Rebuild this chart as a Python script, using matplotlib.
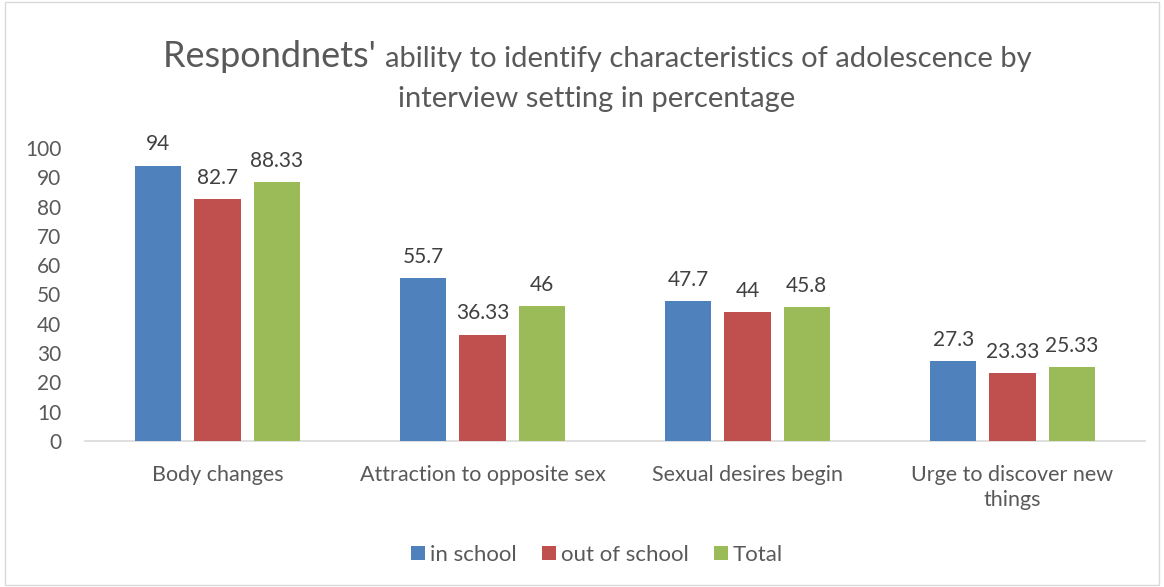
import matplotlib
matplotlib.use("Agg")
import matplotlib.pyplot as plt
import numpy as np
from matplotlib.patches import Rectangle

categories = ["Body changes", "Attraction to opposite sex", "Sexual desires begin", "Urge to discover new\nthings"]
series_names = ["in school", "out of school", "Total"]
in_school = [94, 55.7, 47.7, 27.3]
out_of_school = [82.7, 36.33, 44, 23.33]
total = [88.33, 46, 45.8, 25.33]
label_in = ["94", "55.7", "47.7", "27.3"]
label_out = ["82.7", "36.33", "44", "23.33"]
label_tot = ["88.33", "46", "45.8", "25.33"]
colors = ["#4F81BD", "#C0504D", "#9BBB59"]

plt.rcParams['font.family'] = ['Lato', 'DejaVu Sans']
txt = "#595959"

fig = plt.figure(figsize=(11.64, 5.87), dpi=100)
ax = fig.add_axes([85/1164, 1-441/587, (1145-85)/1164, (441-148)/587])

x = np.arange(len(categories))
w = 0.174
off = 0.223
for i, (vals, labs) in enumerate([(in_school, label_in), (out_of_school, label_out), (total, label_tot)]):
    bars = ax.bar(x + (i-1)*off, vals, w, color=colors[i], label=series_names[i], zorder=3)
    for b, l in zip(bars, labs):
        ax.annotate(l, (b.get_x()+b.get_width()/2, b.get_height()), xytext=(0, 8),
                    textcoords="offset points", ha="center", va="bottom", fontsize=15, color="#404040")

ax.set_xlim(-0.5, 3.5)
ax.set_ylim(0, 100)
ax.set_yticks(range(0, 101, 10))
ax.set_xticks(x)
ax.set_xticklabels(categories, fontsize=15.5, color=txt, linespacing=1.35)
ax.tick_params(axis='y', labelsize=15, labelcolor=txt, length=0, pad=17)
ax.tick_params(axis='x', length=0, pad=17)
for s in ["top", "right", "left"]:
    ax.spines[s].set_visible(False)
ax.spines["bottom"].set_color("#D9D9D9")
ax.spines["bottom"].set_linewidth(1.2)
ax.patch.set_visible(False)

leg = fig.legend(loc="center", bbox_to_anchor=(597/1164, 1-555/587), ncol=3, frameon=False,
                 fontsize=16, handlelength=0.63, handleheight=0.63, handletextpad=0.22, columnspacing=1.15)
for t in leg.get_texts():
    t.set_color(txt)

# Title with mixed sizes
fig.canvas.draw()
r = fig.canvas.get_renderer()
t1 = fig.text(0, 0.9, "Respondnets' ", fontsize=26, color=txt, va="baseline")
t2 = fig.text(0, 0.9, "ability to identify characteristics of adolescence by", fontsize=21, color=txt, va="baseline")
e1 = t1.get_window_extent(r)
e2 = t2.get_window_extent(r)
total_w = e1.width + e2.width
start = 597 - total_w/2
t1.set_position((start/1164, 1-67/587))
t2.set_position(((start+e1.width)/1164, 1-67/587))
fig.text(597/1164, 1-107/587, "interview setting in percentage", fontsize=21, color=txt, ha="center", va="baseline")

fig.add_artist(Rectangle((0.004, 0.003), 0.992, 0.994, transform=fig.transFigure, fill=False,
                         edgecolor="#D9D9D9", linewidth=1))

fig.savefig("out.png", dpi=100)
